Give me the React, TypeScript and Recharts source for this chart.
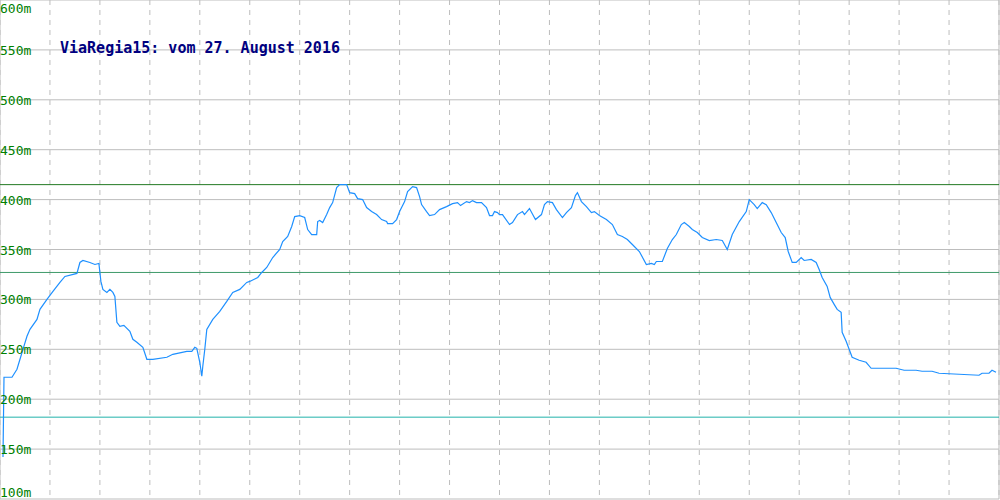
import {
  CartesianGrid,
  Line,
  LineChart,
  ReferenceLine,
  XAxis,
  YAxis,
} from "recharts";

// horizontal position along the track (chart x units) and elevation in metres
const distance = [
  3, 4, 12, 17, 20, 23, 27, 30, 37, 40, 47, 53, 60, 65, 77, 80, 83, 90, 95, 99,
  101, 103, 107, 110, 113, 115, 117, 120, 124, 130, 133, 137, 143, 147, 153, 167,
  173, 187, 192, 195, 197, 200, 202, 203, 205, 207, 213, 220, 227, 233, 240, 247,
  250, 258, 262, 267, 273, 280, 283, 288, 292, 295, 300, 305, 308, 312, 317, 318,
  320, 323, 327, 330, 333, 337, 340, 347, 350, 355, 358, 363, 367, 372, 377, 382,
  387, 388, 393, 397, 400, 405, 408, 413, 417, 420, 422, 427, 430, 435, 440, 447,
  453, 458, 461, 467, 470, 473, 477, 482, 487, 490, 493, 495, 498, 500, 503, 510,
  513, 518, 523, 525, 530, 536, 542, 545, 548, 553, 557, 563, 567, 572, 576, 578,
  582, 587, 592, 595, 600, 607, 613, 618, 623, 628, 633, 640, 647, 652, 655, 657,
  663, 668, 673, 677, 682, 685, 690, 693, 698, 703, 710, 717, 723, 728, 733, 740,
  747, 750, 755, 758, 763, 767, 772, 777, 782, 786, 789, 793, 797, 802, 805, 812,
  817, 820, 823, 828, 831, 835, 838, 842, 843, 847, 850, 853, 860, 867, 872, 897,
  905, 917, 923, 933, 940, 960, 980, 983, 990, 993, 997,
];

const elevation = [
  142, 222, 222, 230, 240, 250, 263, 270, 280, 290, 300, 308, 317, 323, 326, 337, 339, 337, 335, 336,
  318, 310, 307, 310, 307, 303, 277, 273, 274, 268, 260, 257, 252, 240, 240, 242,
  245, 248, 248, 252, 251, 237, 223, 233, 250, 270, 280, 288, 298, 307, 310, 317,
  318, 322, 327, 332, 342, 350, 358, 363, 373, 383, 384, 382, 370, 365, 365, 378,
  379, 377, 385, 392, 397, 412, 415, 415, 407, 406, 401, 400, 392, 388, 385, 380,
  378, 376, 376, 380, 388, 398, 408, 413, 412, 403, 395, 388, 384, 385, 390, 393,
  396, 397, 394, 398, 397, 399, 397, 397, 392, 384, 384, 388, 387, 385, 385, 375,
  377, 385, 388, 385, 391, 380, 385, 395, 398, 397, 390, 382, 387, 392, 404, 407,
  398, 393, 387, 388, 384, 380, 375, 365, 363, 360, 355, 348, 335, 336, 335, 338,
  338, 351, 360, 365, 375, 377, 373, 370, 367, 362, 359, 360, 359, 350, 365, 378,
  388, 400, 395, 391, 397, 395, 387, 377, 367, 362, 348, 337, 337, 342, 339, 340,
  337, 330, 322, 313, 302, 295, 290, 287, 267, 258, 250, 242, 239, 237, 231, 231,
  229, 229, 228, 228, 226, 225, 224, 226, 226, 229, 227,
];

const yTicks = [100, 150, 200, 250, 300, 350, 400, 450, 500, 550, 600];
const xGrid = [50, 100, 150, 200, 250, 300, 350, 400, 450, 500, 550, 600, 650, 700, 750, 800, 850, 900, 950];

// marker lines: max, mean, min
const markers = [
  { value: 415, color: "#237a23" },
  { value: 327, color: "#3f9a6a" },
  { value: 182, color: "#20b2aa" },
];

const title = "ViaRegia15: vom 27. August 2016";

const data = distance.map((d, i) => ({ d, h: elevation[i] }));

function YTick(props: any) {
  const { y, payload } = props;
  const yy = Math.min(Math.max(y, 8), 492);
  return (
    <text
      x={0}
      y={yy}
      dy={5}
      textAnchor="start"
      fill="#008000"
      fontSize={13}
      fontFamily="DejaVu Sans Mono"
    >
      {payload.value}m
    </text>
  );
}

export default function App() {
  return (
    <div style={{ position: "absolute", left: 0, top: 0, width: 1000, height: 500, background: "#fff" }}>
      <LineChart
        width={1000}
        height={500}
        data={data}
        margin={{ top: 0, right: 1, bottom: 1, left: 0 }}
      >
        <CartesianGrid horizontal={true} vertical={false} stroke="#bdbdbd" />
        <CartesianGrid horizontal={false} vertical={true} stroke="#bdbdbd" strokeDasharray="5 5" />
        <XAxis
          dataKey="d"
          type="number"
          domain={[0, 1000]}
          ticks={xGrid}
          hide
        />
        <YAxis
          type="number"
          domain={[100, 600]}
          ticks={yTicks}
          width={40}
          mirror
          axisLine={false}
          tickLine={false}
          tick={YTick}
          interval={0}
        />
        <ReferenceLine x={0} stroke="#bdbdbd" />
        <ReferenceLine x={1000} stroke="#bdbdbd" />
        {markers.map((m) => (
          <ReferenceLine key={m.value} y={m.value} stroke={m.color} strokeWidth={1} />
        ))}
        <Line
          type="linear"
          dataKey="h"
          stroke="#1e90ff"
          strokeWidth={1.2}
          dot={false}
          activeDot={false}
          isAnimationActive={false}
        />
      </LineChart>
      <div
        style={{
          position: "absolute",
          left: 60,
          top: 39,
          fontFamily: "DejaVu Sans Mono",
          fontWeight: "bold",
          fontSize: 15,
          lineHeight: "18px",
          color: "#000080",
          whiteSpace: "pre",
        }}
      >
        {title}
      </div>
    </div>
  );
}
